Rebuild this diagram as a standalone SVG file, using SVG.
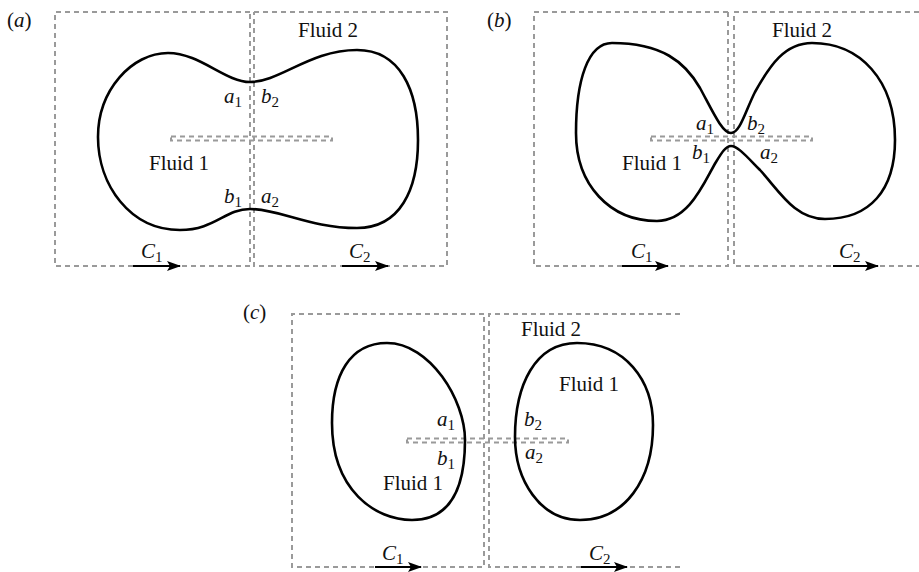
<svg xmlns="http://www.w3.org/2000/svg" width="919" height="572" viewBox="0 0 919 572">
<defs>
<style>
.box{fill:none;stroke:#9a9a9a;stroke-width:2;stroke-dasharray:5 4}
.curve{fill:none;stroke:#000;stroke-width:2.6;stroke-linejoin:round}
.arr{stroke:#000;stroke-width:2;fill:none}
text{font-family:"Liberation Serif","Times New Roman",serif;font-size:21px;fill:#111}
.it{font-style:italic}
.sub{font-style:normal;font-size:15px}
</style>
<marker id="ah" viewBox="0 0 14 10" refX="13" refY="5" markerWidth="14" markerHeight="10" markerUnits="userSpaceOnUse" orient="auto">
<path d="M0,0 L14,5 L0,10 L3,5 Z" fill="#000"/>
</marker>
</defs>
<rect width="919" height="572" fill="#fff"/>

<g id="panel-a">
<path class="box" d="M250,12 H55 V266 H250 V12"/>
<path class="box" d="M254,12 H447 V266 H254 V12"/>
<rect class="box" x="171" y="136.5" width="161" height="4"/>
<path class="curve" d="M98,137 C98,90 132,53 168,53 C200,53 225,82 250,82 C280,82 310,50 357,50 C400,50 418,90 418,140 C418,190 400,228 357,228 C310,228 280,209 250,209 C225,209 215,230 180,230 C130,230 98,185 98,137 Z"/>
<text x="7" y="27">(<tspan class="it">a</tspan>)</text>
<text x="298" y="37">Fluid 2</text>
<text x="149" y="170">Fluid 1</text>
<text class="it" x="224" y="103">a<tspan class="sub" dy="4">1</tspan></text>
<text class="it" x="261" y="103">b<tspan class="sub" dy="4">2</tspan></text>
<text class="it" x="224" y="203">b<tspan class="sub" dy="4">1</tspan></text>
<text class="it" x="261" y="203">a<tspan class="sub" dy="4">2</tspan></text>
<text class="it" x="141" y="258">C<tspan class="sub" dy="4">1</tspan></text>
<text class="it" x="349" y="258">C<tspan class="sub" dy="4">2</tspan></text>
</g>

<g id="panel-b">
<path class="box" d="M728,12 H534 V266 H728 V12"/>
<path class="box" d="M919,12 H734 V266 H919"/>
<rect class="box" x="651" y="136.5" width="161" height="4"/>
<path class="curve" d="M731,133 C722,133 712,110 700,88 C685,62 662,43 612,43 C588,43 576,80 576,133 C576,185 610,221 657,221 C690,221 705,180 716,162 C722,152 726,146 731,146 C738,146 748,158 760,170 C780,192 795,219 825,219 C870,219 895,190 895,140 C895,80 860,43 812,43 C785,43 770,65 755,92 C745,112 740,133 731,133 Z"/>
<text x="487" y="27">(<tspan class="it">b</tspan>)</text>
<text x="772" y="37">Fluid 2</text>
<text x="622" y="170">Fluid 1</text>
<text class="it" x="696" y="130">a<tspan class="sub" dy="4">1</tspan></text>
<text class="it" x="747" y="130">b<tspan class="sub" dy="4">2</tspan></text>
<text class="it" x="692" y="159">b<tspan class="sub" dy="4">1</tspan></text>
<text class="it" x="760" y="159">a<tspan class="sub" dy="4">2</tspan></text>
<text class="it" x="631" y="258">C<tspan class="sub" dy="4">1</tspan></text>
<text class="it" x="839" y="258">C<tspan class="sub" dy="4">2</tspan></text>
</g>

<g id="panel-c">
<path class="box" d="M484,314 H292 V567 H484 V314"/>
<path class="box" d="M680,314 H489 V567 H680"/>
<rect class="box" x="407" y="438.5" width="161" height="4"/>
<path class="curve" d="M387,343 C430,343 465,400 465,440 C465,480 455,520 412,520 C375,520 332,490 332,423 C332,375 350,343 387,343 Z"/>
<path class="curve" d="M577,343 C625,343 653,380 653,425 C653,480 625,520 580,520 C540,520 515,480 515,437 C515,385 535,343 577,343 Z"/>
<text x="243" y="319">(<tspan class="it">c</tspan>)</text>
<text x="521" y="336">Fluid 2</text>
<text x="559" y="391">Fluid 1</text>
<text x="383" y="490">Fluid 1</text>
<text class="it" x="437" y="426">a<tspan class="sub" dy="4">1</tspan></text>
<text class="it" x="437" y="465">b<tspan class="sub" dy="4">1</tspan></text>
<text class="it" x="524" y="426">b<tspan class="sub" dy="4">2</tspan></text>
<text class="it" x="525" y="459">a<tspan class="sub" dy="4">2</tspan></text>
<text class="it" x="382" y="560">C<tspan class="sub" dy="4">1</tspan></text>
<text class="it" x="589" y="560">C<tspan class="sub" dy="4">2</tspan></text>
</g>

<g id="connectors">
<line class="arr" x1="133" y1="266" x2="180" y2="266" marker-end="url(#ah)"/>
<line class="arr" x1="342" y1="266" x2="388" y2="266" marker-end="url(#ah)"/>
<line class="arr" x1="622" y1="266" x2="668" y2="266" marker-end="url(#ah)"/>
<line class="arr" x1="833" y1="266" x2="878" y2="266" marker-end="url(#ah)"/>
<line class="arr" x1="375" y1="567" x2="421" y2="567" marker-end="url(#ah)"/>
<line class="arr" x1="581" y1="567" x2="627" y2="567" marker-end="url(#ah)"/>
</g>
</svg>
